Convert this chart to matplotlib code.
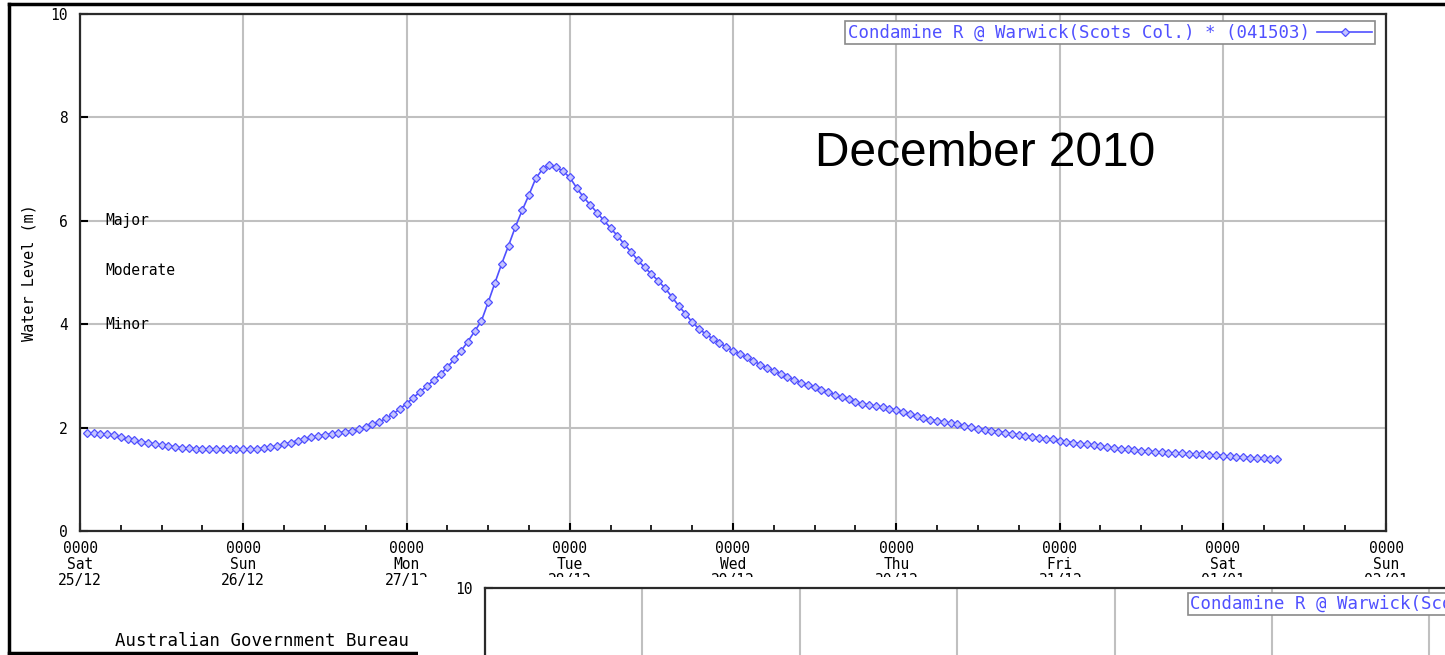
import numpy as np
import matplotlib
matplotlib.use('Agg')
import matplotlib.pyplot as plt
from matplotlib.patches import Rectangle
from matplotlib.lines import Line2D

# Condamine R @ Warwick (Scots Col.) - hourly water level (m), from Sat 25/12 01:00
lvl_sat = [1.90, 1.89, 1.88, 1.87, 1.85, 1.82, 1.78, 1.76, 1.73, 1.71, 1.68, 1.66,
           1.64, 1.63, 1.61, 1.60, 1.59, 1.58, 1.58, 1.58, 1.58, 1.58, 1.58, 1.58]
lvl_sun = [1.58, 1.59, 1.60, 1.62, 1.65, 1.68, 1.71, 1.75, 1.78, 1.81, 1.84, 1.86,
           1.88, 1.90, 1.92, 1.94, 1.97, 2.01, 2.06, 2.11, 2.18, 2.26, 2.36, 2.46]
lvl_mon = [2.58, 2.69, 2.80, 2.92, 3.03, 3.17, 3.32, 3.48, 3.66, 3.86, 4.06, 4.42,
           4.80, 5.17, 5.52, 5.88, 6.20, 6.50, 6.82, 7.00, 7.08, 7.04, 6.96, 6.84]
lvl_tue = [6.64, 6.46, 6.31, 6.16, 6.01, 5.86, 5.71, 5.55, 5.40, 5.24, 5.10, 4.97,
           4.84, 4.70, 4.53, 4.36, 4.20, 4.04, 3.91, 3.81, 3.72, 3.64, 3.56, 3.49]
lvl_wed = [3.42, 3.36, 3.29, 3.22, 3.16, 3.10, 3.04, 2.98, 2.92, 2.87, 2.83, 2.78,
           2.73, 2.68, 2.64, 2.59, 2.55, 2.50, 2.46, 2.44, 2.41, 2.39, 2.36, 2.34]
lvl_thu = [2.31, 2.27, 2.22, 2.18, 2.15, 2.13, 2.11, 2.08, 2.06, 2.04, 2.01, 1.98,
           1.96, 1.94, 1.92, 1.90, 1.88, 1.86, 1.84, 1.82, 1.80, 1.78, 1.77, 1.75]
lvl_fri = [1.73, 1.71, 1.69, 1.68, 1.66, 1.64, 1.62, 1.60, 1.59, 1.58, 1.56, 1.55,
           1.54, 1.53, 1.52, 1.51, 1.50, 1.50, 1.49, 1.48, 1.48, 1.47, 1.47, 1.46]
lvl_sat2 = [1.45, 1.44, 1.43, 1.42, 1.41, 1.41, 1.40, 1.39]

day_names = ['Sat', 'Sun', 'Mon', 'Tue', 'Wed', 'Thu', 'Fri', 'Sat', 'Sun']
day_dates = ['25/12', '26/12', '27/12', '28/12', '29/12', '30/12', '31/12', '01/01', '02/01']
flood_classes = ['Major', 'Moderate', 'Minor']
flood_levels = [6.0, 5.03, 4.0]
series_name = 'Condamine R @ Warwick(Scots Col.) * (041503)'

levels = np.array(lvl_sat + lvl_sun + lvl_mon + lvl_tue + lvl_wed + lvl_thu + lvl_fri + lvl_sat2)
hours = np.arange(1, len(levels) + 1)

blue = '#5050ff'
mono = 'DejaVu Sans Mono'
W, H = 1445, 655

fig = plt.figure(figsize=(W / 100, H / 100), dpi=100)

ax = fig.add_axes([80 / W, 1 - 531 / H, 1306 / W, 517 / H])
ax.plot(hours, levels, color=blue, lw=1.2, marker='D', markersize=4.5,
        markerfacecolor='#c4c4ff', markeredgecolor=blue, markeredgewidth=0.9,
        label=series_name)

ax.set_xlim(0, 192)
ax.set_ylim(0, 10)
ax.set_xticks(range(0, 193, 24))
ax.set_xticks(range(0, 193, 6), minor=True)
ax.set_xticklabels([f'0000\n{d}\n{t}' for d, t in zip(day_names, day_dates)],
                   family=mono, fontsize=10.5, linespacing=1.1)
ax.set_yticks(range(0, 11, 2))
ax.set_yticklabels([str(v) for v in range(0, 11, 2)], family=mono, fontsize=10.5)
ax.tick_params(axis='x', which='major', direction='in', length=6, width=1.5, pad=7)
ax.tick_params(axis='x', which='minor', direction='in', length=4, width=1.2)
ax.tick_params(axis='y', direction='in', length=6, width=1.5, pad=9)
ax.grid(True, which='major', color='#c0c0c0', lw=1.5)
ax.set_axisbelow(True)
for s in ax.spines.values():
    s.set_color('#2a2a2a')
    s.set_linewidth(1.6)

ax.set_ylabel('Water Level (m)', family=mono, fontsize=11, labelpad=10)

for name, lv in zip(flood_classes, flood_levels):
    ax.text(25 / 1306, lv, name, transform=ax.get_yaxis_transform(),
            family=mono, fontsize=10.5, va='center', ha='left')

fig.text(815 / W, 1 - 153 / H, 'December 2010', family='Liberation Sans',
         fontsize=34.5, va='center', ha='left')

leg = ax.legend(loc='upper right', bbox_to_anchor=((1375 - 80) / 1306, 1 - 7 / 517),
                borderaxespad=0, borderpad=0.15, handlelength=3.2, markerfirst=False,
                fancybox=False, framealpha=1, edgecolor='#8a8a8a',
                prop={'family': mono, 'size': 12.5}, handletextpad=0.4)
leg.get_frame().set_linewidth(1.2)
for t in leg.get_texts():
    t.set_color(blue)

fig.text(115 / W, 1 - 641 / H, 'Australian Government Bureau of Meteorology',
         family=mono, fontsize=12.5, va='center', ha='left', zorder=3)

# outer frame of the screenshot
fig.add_artist(Line2D([9 / W, 9 / W], [1 - 653 / H, 1 - 3.5 / H], color='black', lw=2.5, zorder=3))
fig.add_artist(Line2D([9 / W, 1], [1 - 3.5 / H, 1 - 3.5 / H], color='black', lw=2.5, zorder=3))
fig.add_artist(Line2D([9 / W, 1], [1 - 653 / H, 1 - 653 / H], color='black', lw=2.5, zorder=3))

# second chart overlapping the bottom right corner
fig.add_artist(Rectangle((418 / W, 0), 1, 1 - 577 / H, transform=fig.transFigure,
                         facecolor='white', edgecolor='none', zorder=4))
ax2 = fig.add_axes([485 / W, 1 - 1100 / H, 157.4 * 8 / W, 512 / H], zorder=5)
ax2.set_xlim(0, 8)
ax2.set_ylim(0, 10)
ax2.set_xticks(range(0, 9))
ax2.set_xticklabels([])
ax2.set_yticks([10])
ax2.set_yticklabels(['10'], family=mono, fontsize=10.5)
ax2.tick_params(axis='y', direction='in', length=6, width=1.5, pad=9)
ax2.tick_params(axis='x', length=0)
ax2.grid(True, axis='x', color='#c0c0c0', lw=1.5)
for s in ax2.spines.values():
    s.set_color('#2a2a2a')
    s.set_linewidth(1.6)
fig.text(1190 / W, 1 - 604 / H, series_name, family=mono, fontsize=12.5, color=blue,
         va='center', ha='left', zorder=6,
         bbox=dict(facecolor='white', edgecolor='#8a8a8a', lw=1.2, pad=1.5))

fig.savefig('out.png', dpi=100)
plt.close(fig)
